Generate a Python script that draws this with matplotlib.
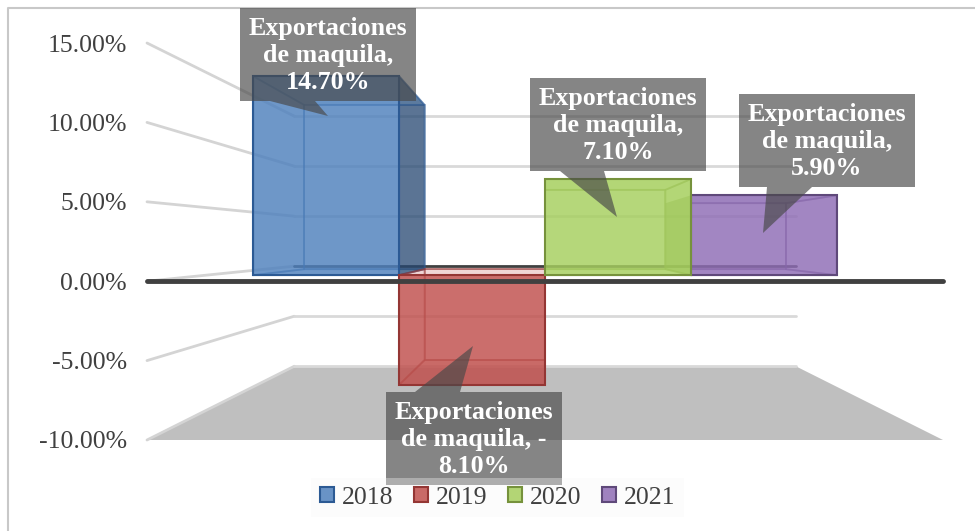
import matplotlib
matplotlib.use('Agg')
import matplotlib.pyplot as plt
from matplotlib.colors import to_rgba
from matplotlib.lines import Line2D
from matplotlib.patches import Polygon, Patch
from matplotlib.transforms import Affine2D, Bbox, TransformedBbox

years = ['2018', '2019', '2020', '2021']
values = [14.70, -8.10, 7.10, 5.90]
y_ticks = [15, 10, 5, 0, -5, -10]
labels = ['Exportaciones\nde maquila,\n14.70%', 'Exportaciones\nde maquila, -\n8.10%',
          'Exportaciones\nde maquila,\n7.10%', 'Exportaciones\nde maquila,\n5.90%']

face = ['#4f81bd', '#c0504d', '#a6cf5e', '#8f6db5']
edge = ['#2c5a94', '#943634', '#76923c', '#5f497a']
side = ['#24456e', '#c0504d', '#a6cf5e', '#8f6db5']
side_alpha = [0.72, 0.12, 0.25, 0.12]

W, H = 975, 531
fig = plt.figure(figsize=(W / 100, H / 100), dpi=100)
plt.rcParams['font.family'] = ['Liberation Serif', 'DejaVu Serif']

# axes = front plane of the 3d box
left, right, top, bottom = 147, 943, 43, 440
ax = fig.add_axes([left / W, 1 - bottom / H, (right - left) / W, (bottom - top) / H])
ax.set_xlim(-1, 1)
ax.set_ylim(-10, 15)
ax.patch.set_alpha(0)
for s in ax.spines.values():
    s.set_visible(False)
ax.set_xticks([])
ax.set_yticks(y_ticks)
ax.set_yticklabels(['%.2f%%' % v for v in y_ticks], fontsize=18.5, color='#404040',
                   family=['Liberation Serif'])
ax.tick_params(axis='y', length=0, pad=14.4)

SHRINK = 0.37   # back wall size against front
LIFT = 0.945    # how much the zero line rises at the back, in % units


def proj(x, y, t):
    k = 1 - SHRINK * t
    return x * k, y * k + LIFT * t


def poly(pts, clip_x=None, **kw):
    p = Polygon([proj(*q) for q in pts], closed=True, clip_on=False, **kw)
    ax.add_patch(p)
    if clip_x is not None:
        p.set_clip_on(True)
        p.set_clip_box(TransformedBbox(Bbox([[clip_x, -30], [3, 30]]), ax.transData))
        p.set_clip_path(None)


def line(p, q, **kw):
    a, b = proj(*p), proj(*q)
    ax.plot([a[0], b[0]], [a[1], b[1]], clip_on=False, solid_capstyle='round', **kw)


# floor
poly([(-1, -10, 0), (1, -10, 0), (1, -10, 1), (-1, -10, 1)], fc='#bfbfbf', ec='none', zorder=1)

# grid on left and back wall
for v in y_ticks:
    line((-1, v, 0), (-1, v, 1), color='#d4d4d4', lw=2, zorder=2)
    if v != 0:
        line((-1, v, 1), (1, v, 1), color='#d9d9d9', lw=2, zorder=2)
line((-1, 0, 1), (1, 0, 1), color='#404040', lw=2, zorder=2)

# bars, purple goes under green
bar_w = 0.43
t0, t1 = 0.4, 0.8
bar_z = [4, 5, 6, 3]
for i, v in enumerate(values):
    x0 = (i - 2) * bar_w
    x1 = x0 + bar_w
    fc = face[i]
    inner = dict(ec=to_rgba(edge[i], 0.45), lw=1.3, zorder=bar_z[i])
    clip = x0 * (1 - SHRINK * t0) if i == 3 else None
    # back, floor, sides, top, front
    poly([(x0, 0, t1), (x1, 0, t1), (x1, v, t1), (x0, v, t1)], clip_x=clip, fc=to_rgba(fc, 0.12), **inner)
    poly([(x0, 0, t0), (x1, 0, t0), (x1, 0, t1), (x0, 0, t1)], clip_x=clip, fc=to_rgba(fc, 0.12), **inner)
    if i == 3:
        # its left face shows through the green bar, no edge there
        poly([(x0, 0, t0), (x0, v, t0), (x0, v, t1), (x0, 0, t1)], fc=to_rgba('#6f8c3c', 0.55), ec='none',
             zorder=bar_z[i])
    else:
        poly([(x0, 0, t0), (x0, v, t0), (x0, v, t1), (x0, 0, t1)], fc=to_rgba(fc, 0.12), **inner)
    poly([(x1, 0, t0), (x1, v, t0), (x1, v, t1), (x1, 0, t1)], fc=to_rgba(side[i], side_alpha[i]), **inner)
    poly([(x0, v, t0), (x1, v, t0), (x1, v, t1), (x0, v, t1)], clip_x=clip, fc=to_rgba(fc, 0.25), **inner)
    poly([(x0, 0, t0), (x1, 0, t0), (x1, v, t0), (x0, v, t0)], fc=to_rgba(fc, 0.8), ec=edge[i], lw=1.5,
         zorder=bar_z[i])

# front zero line
ax.plot([-1, 1], [0, 0], color='#404040', lw=3.5, solid_capstyle='round', clip_on=False, zorder=8)

# callouts are placed in pixels from top left
px = Affine2D().scale(1, -1).translate(0, H)
boxes = [(240, 8), (386, 392), (530, 78), (739, 94)]
tips = [(328, 116), (473, 346), (617, 217), (763, 233)]
foots = [((270, 101), (315, 101)), ((415, 392), (460, 392)), ((560, 171), (604, 171)), ((767, 187), (812, 187))]
box_w, box_h = 176, 93
for i, (bx, by) in enumerate(boxes):
    (fx0, fy), (fx1, _) = foots[i]
    tx, ty = tips[i]
    if ty > by:
        pts = [(bx, by), (bx + box_w, by), (bx + box_w, by + box_h), (fx1, fy), (tx, ty), (fx0, fy), (bx, by + box_h)]
    else:
        pts = [(bx, by), (fx0, fy), (tx, ty), (fx1, fy), (bx + box_w, by), (bx + box_w, by + box_h), (bx, by + box_h)]
    fig.add_artist(Polygon(pts, closed=True, fc='#494949', ec='none', alpha=0.67, transform=px, zorder=9))
    fig.text(bx + box_w / 2, by + box_h / 2 + 1, labels[i], transform=px, ha='center', va='center',
             color='white', fontweight='bold', fontsize=18.7, linespacing=1.2, zorder=10)

# outer frame, only top and left show
fig.add_artist(Line2D([8, 8, 975], [531, 8, 8], color='#c8c8c8', lw=1.5, transform=px, zorder=0))

handles = [Patch(fc=to_rgba(face[i], 0.85), ec=edge[i], lw=1.5, label=years[i]) for i in range(4)]
leg = fig.legend(handles=handles, ncol=4, loc='center', bbox_to_anchor=(497.5 / W, 1 - 497.5 / H),
                 fontsize=18.5, frameon=True, fancybox=False, framealpha=0.35, facecolor='#f9f9f9',
                 edgecolor='none', labelcolor='#404040', handlelength=0.55, handleheight=0.55,
                 handletextpad=0.3, columnspacing=0.8, borderpad=0.35, borderaxespad=0)
leg.set_zorder(11)

fig.savefig('out.png', dpi=100)
